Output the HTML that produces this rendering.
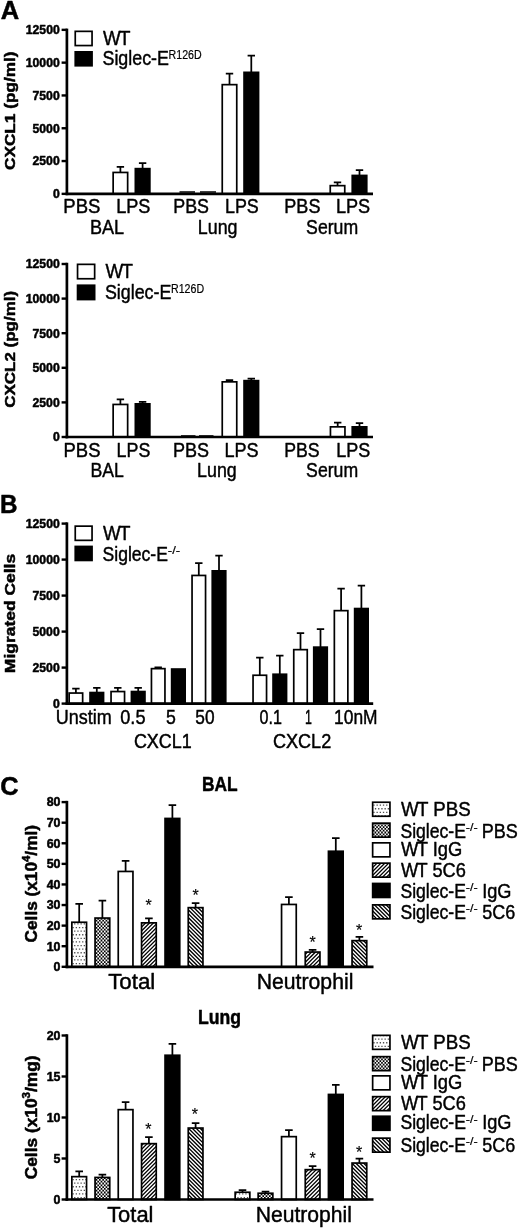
<!DOCTYPE html>
<html lang="en"><head><meta charset="utf-8"><title>Figure</title>
<style>html,body{margin:0;padding:0;background:#fff}body{width:520px;height:1230px;overflow:hidden}svg{display:block;filter:blur(.4px)}text{font-family:"Liberation Sans", Arial, sans-serif;fill:#000;stroke:#000;stroke-width:.45px;stroke-linejoin:round}text[font-weight=bold]{stroke-width:.5px}text.t{stroke-width:.18px}</style>
</head><body>
<svg width="520" height="1230" viewBox="0 0 520 1230">
<defs>
<pattern id="pdot" width="16" height="36" patternUnits="userSpaceOnUse"><rect width="16" height="36" fill="#fff"/><path d="M0.50,1.70h1.3v1.3h-1.3zM-1.10,5.30h1.3v1.3h-1.3zM3.70,1.70h1.3v1.3h-1.3zM2.10,5.30h1.3v1.3h-1.3zM6.90,1.70h1.3v1.3h-1.3zM5.30,5.30h1.3v1.3h-1.3zM10.10,1.70h1.3v1.3h-1.3zM8.50,5.30h1.3v1.3h-1.3zM13.30,1.70h1.3v1.3h-1.3zM11.70,5.30h1.3v1.3h-1.3zM16.50,1.70h1.3v1.3h-1.3zM14.90,5.30h1.3v1.3h-1.3zM0.50,8.90h1.3v1.3h-1.3zM-1.10,12.50h1.3v1.3h-1.3zM3.70,8.90h1.3v1.3h-1.3zM2.10,12.50h1.3v1.3h-1.3zM6.90,8.90h1.3v1.3h-1.3zM5.30,12.50h1.3v1.3h-1.3zM10.10,8.90h1.3v1.3h-1.3zM8.50,12.50h1.3v1.3h-1.3zM13.30,8.90h1.3v1.3h-1.3zM11.70,12.50h1.3v1.3h-1.3zM16.50,8.90h1.3v1.3h-1.3zM14.90,12.50h1.3v1.3h-1.3zM0.50,16.10h1.3v1.3h-1.3zM-1.10,19.70h1.3v1.3h-1.3zM3.70,16.10h1.3v1.3h-1.3zM2.10,19.70h1.3v1.3h-1.3zM6.90,16.10h1.3v1.3h-1.3zM5.30,19.70h1.3v1.3h-1.3zM10.10,16.10h1.3v1.3h-1.3zM8.50,19.70h1.3v1.3h-1.3zM13.30,16.10h1.3v1.3h-1.3zM11.70,19.70h1.3v1.3h-1.3zM16.50,16.10h1.3v1.3h-1.3zM14.90,19.70h1.3v1.3h-1.3zM0.50,23.30h1.3v1.3h-1.3zM-1.10,26.90h1.3v1.3h-1.3zM3.70,23.30h1.3v1.3h-1.3zM2.10,26.90h1.3v1.3h-1.3zM6.90,23.30h1.3v1.3h-1.3zM5.30,26.90h1.3v1.3h-1.3zM10.10,23.30h1.3v1.3h-1.3zM8.50,26.90h1.3v1.3h-1.3zM13.30,23.30h1.3v1.3h-1.3zM11.70,26.90h1.3v1.3h-1.3zM16.50,23.30h1.3v1.3h-1.3zM14.90,26.90h1.3v1.3h-1.3zM0.50,30.50h1.3v1.3h-1.3zM-1.10,34.10h1.3v1.3h-1.3zM3.70,30.50h1.3v1.3h-1.3zM2.10,34.10h1.3v1.3h-1.3zM6.90,30.50h1.3v1.3h-1.3zM5.30,34.10h1.3v1.3h-1.3zM10.10,30.50h1.3v1.3h-1.3zM8.50,34.10h1.3v1.3h-1.3zM13.30,30.50h1.3v1.3h-1.3zM11.70,34.10h1.3v1.3h-1.3zM16.50,30.50h1.3v1.3h-1.3zM14.90,34.10h1.3v1.3h-1.3z" fill="#505050"/></pattern>
<pattern id="pchk" width="33" height="36" patternUnits="userSpaceOnUse"><rect width="33" height="36" fill="#000"/><path d="M0.00,0.00h1.65v1.8h-1.65zM3.30,0.00h1.65v1.8h-1.65zM6.60,0.00h1.65v1.8h-1.65zM9.90,0.00h1.65v1.8h-1.65zM13.20,0.00h1.65v1.8h-1.65zM16.50,0.00h1.65v1.8h-1.65zM19.80,0.00h1.65v1.8h-1.65zM23.10,0.00h1.65v1.8h-1.65zM26.40,0.00h1.65v1.8h-1.65zM29.70,0.00h1.65v1.8h-1.65zM1.65,1.80h1.65v1.8h-1.65zM4.95,1.80h1.65v1.8h-1.65zM8.25,1.80h1.65v1.8h-1.65zM11.55,1.80h1.65v1.8h-1.65zM14.85,1.80h1.65v1.8h-1.65zM18.15,1.80h1.65v1.8h-1.65zM21.45,1.80h1.65v1.8h-1.65zM24.75,1.80h1.65v1.8h-1.65zM28.05,1.80h1.65v1.8h-1.65zM31.35,1.80h1.65v1.8h-1.65zM0.00,3.60h1.65v1.8h-1.65zM3.30,3.60h1.65v1.8h-1.65zM6.60,3.60h1.65v1.8h-1.65zM9.90,3.60h1.65v1.8h-1.65zM13.20,3.60h1.65v1.8h-1.65zM16.50,3.60h1.65v1.8h-1.65zM19.80,3.60h1.65v1.8h-1.65zM23.10,3.60h1.65v1.8h-1.65zM26.40,3.60h1.65v1.8h-1.65zM29.70,3.60h1.65v1.8h-1.65zM1.65,5.40h1.65v1.8h-1.65zM4.95,5.40h1.65v1.8h-1.65zM8.25,5.40h1.65v1.8h-1.65zM11.55,5.40h1.65v1.8h-1.65zM14.85,5.40h1.65v1.8h-1.65zM18.15,5.40h1.65v1.8h-1.65zM21.45,5.40h1.65v1.8h-1.65zM24.75,5.40h1.65v1.8h-1.65zM28.05,5.40h1.65v1.8h-1.65zM31.35,5.40h1.65v1.8h-1.65zM0.00,7.20h1.65v1.8h-1.65zM3.30,7.20h1.65v1.8h-1.65zM6.60,7.20h1.65v1.8h-1.65zM9.90,7.20h1.65v1.8h-1.65zM13.20,7.20h1.65v1.8h-1.65zM16.50,7.20h1.65v1.8h-1.65zM19.80,7.20h1.65v1.8h-1.65zM23.10,7.20h1.65v1.8h-1.65zM26.40,7.20h1.65v1.8h-1.65zM29.70,7.20h1.65v1.8h-1.65zM1.65,9.00h1.65v1.8h-1.65zM4.95,9.00h1.65v1.8h-1.65zM8.25,9.00h1.65v1.8h-1.65zM11.55,9.00h1.65v1.8h-1.65zM14.85,9.00h1.65v1.8h-1.65zM18.15,9.00h1.65v1.8h-1.65zM21.45,9.00h1.65v1.8h-1.65zM24.75,9.00h1.65v1.8h-1.65zM28.05,9.00h1.65v1.8h-1.65zM31.35,9.00h1.65v1.8h-1.65zM0.00,10.80h1.65v1.8h-1.65zM3.30,10.80h1.65v1.8h-1.65zM6.60,10.80h1.65v1.8h-1.65zM9.90,10.80h1.65v1.8h-1.65zM13.20,10.80h1.65v1.8h-1.65zM16.50,10.80h1.65v1.8h-1.65zM19.80,10.80h1.65v1.8h-1.65zM23.10,10.80h1.65v1.8h-1.65zM26.40,10.80h1.65v1.8h-1.65zM29.70,10.80h1.65v1.8h-1.65zM1.65,12.60h1.65v1.8h-1.65zM4.95,12.60h1.65v1.8h-1.65zM8.25,12.60h1.65v1.8h-1.65zM11.55,12.60h1.65v1.8h-1.65zM14.85,12.60h1.65v1.8h-1.65zM18.15,12.60h1.65v1.8h-1.65zM21.45,12.60h1.65v1.8h-1.65zM24.75,12.60h1.65v1.8h-1.65zM28.05,12.60h1.65v1.8h-1.65zM31.35,12.60h1.65v1.8h-1.65zM0.00,14.40h1.65v1.8h-1.65zM3.30,14.40h1.65v1.8h-1.65zM6.60,14.40h1.65v1.8h-1.65zM9.90,14.40h1.65v1.8h-1.65zM13.20,14.40h1.65v1.8h-1.65zM16.50,14.40h1.65v1.8h-1.65zM19.80,14.40h1.65v1.8h-1.65zM23.10,14.40h1.65v1.8h-1.65zM26.40,14.40h1.65v1.8h-1.65zM29.70,14.40h1.65v1.8h-1.65zM1.65,16.20h1.65v1.8h-1.65zM4.95,16.20h1.65v1.8h-1.65zM8.25,16.20h1.65v1.8h-1.65zM11.55,16.20h1.65v1.8h-1.65zM14.85,16.20h1.65v1.8h-1.65zM18.15,16.20h1.65v1.8h-1.65zM21.45,16.20h1.65v1.8h-1.65zM24.75,16.20h1.65v1.8h-1.65zM28.05,16.20h1.65v1.8h-1.65zM31.35,16.20h1.65v1.8h-1.65zM0.00,18.00h1.65v1.8h-1.65zM3.30,18.00h1.65v1.8h-1.65zM6.60,18.00h1.65v1.8h-1.65zM9.90,18.00h1.65v1.8h-1.65zM13.20,18.00h1.65v1.8h-1.65zM16.50,18.00h1.65v1.8h-1.65zM19.80,18.00h1.65v1.8h-1.65zM23.10,18.00h1.65v1.8h-1.65zM26.40,18.00h1.65v1.8h-1.65zM29.70,18.00h1.65v1.8h-1.65zM1.65,19.80h1.65v1.8h-1.65zM4.95,19.80h1.65v1.8h-1.65zM8.25,19.80h1.65v1.8h-1.65zM11.55,19.80h1.65v1.8h-1.65zM14.85,19.80h1.65v1.8h-1.65zM18.15,19.80h1.65v1.8h-1.65zM21.45,19.80h1.65v1.8h-1.65zM24.75,19.80h1.65v1.8h-1.65zM28.05,19.80h1.65v1.8h-1.65zM31.35,19.80h1.65v1.8h-1.65zM0.00,21.60h1.65v1.8h-1.65zM3.30,21.60h1.65v1.8h-1.65zM6.60,21.60h1.65v1.8h-1.65zM9.90,21.60h1.65v1.8h-1.65zM13.20,21.60h1.65v1.8h-1.65zM16.50,21.60h1.65v1.8h-1.65zM19.80,21.60h1.65v1.8h-1.65zM23.10,21.60h1.65v1.8h-1.65zM26.40,21.60h1.65v1.8h-1.65zM29.70,21.60h1.65v1.8h-1.65zM1.65,23.40h1.65v1.8h-1.65zM4.95,23.40h1.65v1.8h-1.65zM8.25,23.40h1.65v1.8h-1.65zM11.55,23.40h1.65v1.8h-1.65zM14.85,23.40h1.65v1.8h-1.65zM18.15,23.40h1.65v1.8h-1.65zM21.45,23.40h1.65v1.8h-1.65zM24.75,23.40h1.65v1.8h-1.65zM28.05,23.40h1.65v1.8h-1.65zM31.35,23.40h1.65v1.8h-1.65zM0.00,25.20h1.65v1.8h-1.65zM3.30,25.20h1.65v1.8h-1.65zM6.60,25.20h1.65v1.8h-1.65zM9.90,25.20h1.65v1.8h-1.65zM13.20,25.20h1.65v1.8h-1.65zM16.50,25.20h1.65v1.8h-1.65zM19.80,25.20h1.65v1.8h-1.65zM23.10,25.20h1.65v1.8h-1.65zM26.40,25.20h1.65v1.8h-1.65zM29.70,25.20h1.65v1.8h-1.65zM1.65,27.00h1.65v1.8h-1.65zM4.95,27.00h1.65v1.8h-1.65zM8.25,27.00h1.65v1.8h-1.65zM11.55,27.00h1.65v1.8h-1.65zM14.85,27.00h1.65v1.8h-1.65zM18.15,27.00h1.65v1.8h-1.65zM21.45,27.00h1.65v1.8h-1.65zM24.75,27.00h1.65v1.8h-1.65zM28.05,27.00h1.65v1.8h-1.65zM31.35,27.00h1.65v1.8h-1.65zM0.00,28.80h1.65v1.8h-1.65zM3.30,28.80h1.65v1.8h-1.65zM6.60,28.80h1.65v1.8h-1.65zM9.90,28.80h1.65v1.8h-1.65zM13.20,28.80h1.65v1.8h-1.65zM16.50,28.80h1.65v1.8h-1.65zM19.80,28.80h1.65v1.8h-1.65zM23.10,28.80h1.65v1.8h-1.65zM26.40,28.80h1.65v1.8h-1.65zM29.70,28.80h1.65v1.8h-1.65zM1.65,30.60h1.65v1.8h-1.65zM4.95,30.60h1.65v1.8h-1.65zM8.25,30.60h1.65v1.8h-1.65zM11.55,30.60h1.65v1.8h-1.65zM14.85,30.60h1.65v1.8h-1.65zM18.15,30.60h1.65v1.8h-1.65zM21.45,30.60h1.65v1.8h-1.65zM24.75,30.60h1.65v1.8h-1.65zM28.05,30.60h1.65v1.8h-1.65zM31.35,30.60h1.65v1.8h-1.65zM0.00,32.40h1.65v1.8h-1.65zM3.30,32.40h1.65v1.8h-1.65zM6.60,32.40h1.65v1.8h-1.65zM9.90,32.40h1.65v1.8h-1.65zM13.20,32.40h1.65v1.8h-1.65zM16.50,32.40h1.65v1.8h-1.65zM19.80,32.40h1.65v1.8h-1.65zM23.10,32.40h1.65v1.8h-1.65zM26.40,32.40h1.65v1.8h-1.65zM29.70,32.40h1.65v1.8h-1.65zM1.65,34.20h1.65v1.8h-1.65zM4.95,34.20h1.65v1.8h-1.65zM8.25,34.20h1.65v1.8h-1.65zM11.55,34.20h1.65v1.8h-1.65zM14.85,34.20h1.65v1.8h-1.65zM18.15,34.20h1.65v1.8h-1.65zM21.45,34.20h1.65v1.8h-1.65zM24.75,34.20h1.65v1.8h-1.65zM28.05,34.20h1.65v1.8h-1.65zM31.35,34.20h1.65v1.8h-1.65z" fill="#fff"/></pattern>
<pattern id="pfw" width="39" height="39" patternUnits="userSpaceOnUse"><rect width="39" height="39" fill="#fff"/><path d="M1.00,-1L-1,1.00M4.90,-1L-1,4.90M8.80,-1L-1,8.80M12.70,-1L-1,12.70M16.60,-1L-1,16.60M20.50,-1L-1,20.50M24.40,-1L-1,24.40M28.30,-1L-1,28.30M32.20,-1L-1,32.20M36.10,-1L-1,36.10M40.00,-1L-1,40.00M43.90,-1L-1,43.90M47.80,-1L-1,47.80M51.70,-1L-1,51.70M55.60,-1L-1,55.60M59.50,-1L-1,59.50M63.40,-1L-1,63.40M67.30,-1L-1,67.30M71.20,-1L-1,71.20M75.10,-1L-1,75.10M79.00,-1L-1,79.00" stroke="#000" stroke-width="1.3" fill="none"/></pattern>
<pattern id="pbw" width="39" height="39" patternUnits="userSpaceOnUse"><rect width="39" height="39" fill="#fff"/><path d="M38.00,-1L40,1.00M34.10,-1L40,4.90M30.20,-1L40,8.80M26.30,-1L40,12.70M22.40,-1L40,16.60M18.50,-1L40,20.50M14.60,-1L40,24.40M10.70,-1L40,28.30M6.80,-1L40,32.20M2.90,-1L40,36.10M-1.00,-1L40,40.00M-4.90,-1L40,43.90M-8.80,-1L40,47.80M-12.70,-1L40,51.70M-16.60,-1L40,55.60M-20.50,-1L40,59.50M-24.40,-1L40,63.40M-28.30,-1L40,67.30M-32.20,-1L40,71.20M-36.10,-1L40,75.10M-40.00,-1L40,79.00" stroke="#000" stroke-width="1.35" fill="none"/></pattern>
</defs>
<rect width="520" height="1230" fill="#fff"/>
<text transform="translate(0.76,19.0) scale(0.9970,1)" font-size="25.6" font-weight="bold">A</text>
<path d="M120.40,172.60 V166.80 M116.70,166.80 H124.10" stroke="#000" stroke-width="1.75" fill="none"/>
<rect x="113.15" y="172.45" width="14.50" height="21.40" fill="#fff" stroke="#000" stroke-width="1.7"/>
<path d="M142.60,168.80 V163.00 M138.90,163.00 H146.30" stroke="#000" stroke-width="1.75" fill="none"/>
<rect x="135.35" y="168.65" width="14.50" height="25.20" fill="#000" stroke="#000" stroke-width="1.7"/>
<path d="M229.50,84.80 V73.70 M225.80,73.70 H233.20" stroke="#000" stroke-width="1.75" fill="none"/>
<rect x="222.25" y="84.65" width="14.50" height="109.20" fill="#fff" stroke="#000" stroke-width="1.7"/>
<path d="M251.30,72.50 V55.50 M247.60,55.50 H255.00" stroke="#000" stroke-width="1.75" fill="none"/>
<rect x="244.05" y="72.35" width="14.50" height="121.50" fill="#000" stroke="#000" stroke-width="1.7"/>
<path d="M337.50,185.80 V182.30 M333.80,182.30 H341.20" stroke="#000" stroke-width="1.75" fill="none"/>
<rect x="330.25" y="185.65" width="14.50" height="8.20" fill="#fff" stroke="#000" stroke-width="1.7"/>
<path d="M359.50,175.60 V170.00 M355.80,170.00 H363.20" stroke="#000" stroke-width="1.75" fill="none"/>
<rect x="352.25" y="175.45" width="14.50" height="18.40" fill="#000" stroke="#000" stroke-width="1.7"/>
<path d="M179.5,192.0 H195 M200,192.0 H216" stroke="#000" stroke-width="1.3"/>
<path d="M66.9,28.60 V195.20" stroke="#000" stroke-width="2.7" fill="none"/>
<path d="M65.60000000000001,193.85 H373" stroke="#000" stroke-width="2.7" fill="none"/>
<path d="M61.6,29.85 H66.9" stroke="#000" stroke-width="2.4"/>
<text x="59.7" y="34.15" font-size="12.2" font-weight="bold" text-anchor="end">12500</text>
<path d="M61.6,62.65 H66.9" stroke="#000" stroke-width="2.4"/>
<text x="59.7" y="66.95" font-size="12.2" font-weight="bold" text-anchor="end">10000</text>
<path d="M61.6,95.45 H66.9" stroke="#000" stroke-width="2.4"/>
<text x="59.7" y="99.75" font-size="12.2" font-weight="bold" text-anchor="end">7500</text>
<path d="M61.6,128.25 H66.9" stroke="#000" stroke-width="2.4"/>
<text x="59.7" y="132.55" font-size="12.2" font-weight="bold" text-anchor="end">5000</text>
<path d="M61.6,161.05 H66.9" stroke="#000" stroke-width="2.4"/>
<text x="59.7" y="165.35" font-size="12.2" font-weight="bold" text-anchor="end">2500</text>
<path d="M61.6,193.85 H66.9" stroke="#000" stroke-width="2.4"/>
<text x="59.7" y="198.15" font-size="12.2" font-weight="bold" text-anchor="end">0</text>
<text transform="translate(15.2,169.99) rotate(-90) scale(1.1329,1)" font-size="15.2" font-weight="bold">CXCL1 (pg/ml)</text>
<rect x="75.25" y="31.35" width="16.80" height="14.20" fill="#fff" stroke="#000" stroke-width="1.7"/>
<rect x="74.4" y="51.0" width="18.50" height="15.60" fill="#000"/>
<text transform="translate(103.01,45.0) scale(0.9284,1)" font-size="20.2"><tspan letter-spacing="-1.72">W</tspan>T</text>
<text transform="translate(102.50,65.0) scale(0.8839,1)" font-size="20.2">Siglec-E</text>
<text transform="translate(168.55,58.8) scale(0.8878,1)" font-size="12.0" class="t">R126D</text>
<text transform="translate(63.32,213.2) scale(0.9280,1)" font-size="20.0">PBS</text>
<text transform="translate(116.15,213.2) scale(0.9065,1)" font-size="20.0">LPS</text>
<text transform="translate(173.27,213.2) scale(0.8933,1)" font-size="20.0">PBS</text>
<text transform="translate(224.97,213.2) scale(0.8952,1)" font-size="20.0">LPS</text>
<text transform="translate(284.36,213.2) scale(0.9013,1)" font-size="20.0">PBS</text>
<text transform="translate(335.95,213.2) scale(0.9065,1)" font-size="20.0">LPS</text>
<text transform="translate(89.95,233.8) scale(0.9045,1)" font-size="20.0">BAL</text>
<text transform="translate(197.87,233.8) scale(0.8918,1)" font-size="20.0">Lung</text>
<text transform="translate(306.10,233.8) scale(0.8836,1)" font-size="20.0">Serum</text>
<path d="M120.40,404.60 V399.40 M116.70,399.40 H124.10" stroke="#000" stroke-width="1.75" fill="none"/>
<rect x="113.15" y="404.45" width="14.50" height="32.55" fill="#fff" stroke="#000" stroke-width="1.7"/>
<path d="M142.60,404.00 V401.80 M138.90,401.80 H146.30" stroke="#000" stroke-width="1.75" fill="none"/>
<rect x="135.35" y="403.85" width="14.50" height="33.15" fill="#000" stroke="#000" stroke-width="1.7"/>
<path d="M229.50,382.00 V380.00 M225.80,380.00 H233.20" stroke="#000" stroke-width="1.75" fill="none"/>
<rect x="222.25" y="381.85" width="14.50" height="55.15" fill="#fff" stroke="#000" stroke-width="1.7"/>
<path d="M251.30,380.80 V378.60 M247.60,378.60 H255.00" stroke="#000" stroke-width="1.75" fill="none"/>
<rect x="244.05" y="380.65" width="14.50" height="56.35" fill="#000" stroke="#000" stroke-width="1.7"/>
<path d="M337.70,427.00 V422.50 M334.00,422.50 H341.40" stroke="#000" stroke-width="1.75" fill="none"/>
<rect x="330.45" y="426.85" width="14.50" height="10.15" fill="#fff" stroke="#000" stroke-width="1.7"/>
<path d="M359.50,427.00 V423.00 M355.80,423.00 H363.20" stroke="#000" stroke-width="1.75" fill="none"/>
<rect x="352.25" y="426.85" width="14.50" height="10.15" fill="#000" stroke="#000" stroke-width="1.7"/>
<path d="M181,435.6 H195.5 M199,435.6 H213.5" stroke="#000" stroke-width="0.9"/>
<path d="M66.9,262.75 V438.35" stroke="#000" stroke-width="2.7" fill="none"/>
<path d="M65.60000000000001,437.00 H373" stroke="#000" stroke-width="2.7" fill="none"/>
<path d="M61.6,264.00 H66.9" stroke="#000" stroke-width="2.4"/>
<text x="59.7" y="268.3" font-size="12.2" font-weight="bold" text-anchor="end">12500</text>
<path d="M61.6,298.60 H66.9" stroke="#000" stroke-width="2.4"/>
<text x="59.7" y="302.9" font-size="12.2" font-weight="bold" text-anchor="end">10000</text>
<path d="M61.6,333.20 H66.9" stroke="#000" stroke-width="2.4"/>
<text x="59.7" y="337.5" font-size="12.2" font-weight="bold" text-anchor="end">7500</text>
<path d="M61.6,367.80 H66.9" stroke="#000" stroke-width="2.4"/>
<text x="59.7" y="372.1" font-size="12.2" font-weight="bold" text-anchor="end">5000</text>
<path d="M61.6,402.40 H66.9" stroke="#000" stroke-width="2.4"/>
<text x="59.7" y="406.7" font-size="12.2" font-weight="bold" text-anchor="end">2500</text>
<path d="M61.6,437.00 H66.9" stroke="#000" stroke-width="2.4"/>
<text x="59.7" y="441.3" font-size="12.2" font-weight="bold" text-anchor="end">0</text>
<text transform="translate(15.2,407.68) rotate(-90) scale(1.1165,1)" font-size="15.2" font-weight="bold">CXCL2 (pg/ml)</text>
<rect x="77.55" y="264.35" width="17.10" height="14.40" fill="#fff" stroke="#000" stroke-width="1.7"/>
<rect x="76.7" y="284.4" width="18.80" height="16.00" fill="#000"/>
<text transform="translate(105.41,278.4) scale(0.9284,1)" font-size="20.2"><tspan letter-spacing="-1.72">W</tspan>T</text>
<text transform="translate(104.90,299.0) scale(0.8839,1)" font-size="20.2">Siglec-E</text>
<text transform="translate(170.95,292.8) scale(0.8878,1)" font-size="12.0" class="t">R126D</text>
<text transform="translate(63.52,456.7) scale(0.9227,1)" font-size="20.0">PBS</text>
<text transform="translate(116.57,456.7) scale(0.8924,1)" font-size="20.0">LPS</text>
<text transform="translate(172.96,456.7) scale(0.9013,1)" font-size="20.0">PBS</text>
<text transform="translate(224.45,456.7) scale(0.9037,1)" font-size="20.0">LPS</text>
<text transform="translate(284.18,456.7) scale(0.8853,1)" font-size="20.0">PBS</text>
<text transform="translate(336.16,456.7) scale(0.9008,1)" font-size="20.0">LPS</text>
<text transform="translate(90.59,476.9) scale(0.8820,1)" font-size="20.0">BAL</text>
<text transform="translate(197.07,476.9) scale(0.8918,1)" font-size="20.0">Lung</text>
<text transform="translate(306.10,476.9) scale(0.8836,1)" font-size="20.0">Serum</text>
<text transform="translate(0.12,512.6) scale(0.9477,1)" font-size="25.6" font-weight="bold">B</text>
<path d="M75.90,693.20 V688.50 M72.20,688.50 H79.60" stroke="#000" stroke-width="1.75" fill="none"/>
<rect x="69.15" y="693.05" width="13.50" height="10.55" fill="#fff" stroke="#000" stroke-width="1.7"/>
<path d="M96.80,692.70 V687.80 M93.10,687.80 H100.50" stroke="#000" stroke-width="1.75" fill="none"/>
<rect x="90.05" y="692.55" width="13.50" height="11.05" fill="#000" stroke="#000" stroke-width="1.7"/>
<path d="M117.80,691.70 V687.80 M114.10,687.80 H121.50" stroke="#000" stroke-width="1.75" fill="none"/>
<rect x="111.05" y="691.55" width="13.50" height="12.05" fill="#fff" stroke="#000" stroke-width="1.7"/>
<path d="M138.20,691.70 V687.80 M134.50,687.80 H141.90" stroke="#000" stroke-width="1.75" fill="none"/>
<rect x="131.45" y="691.55" width="13.50" height="12.05" fill="#000" stroke="#000" stroke-width="1.7"/>
<path d="M158.20,668.80 V667.40 M154.50,667.40 H161.90" stroke="#000" stroke-width="1.75" fill="none"/>
<rect x="151.45" y="668.65" width="13.50" height="34.95" fill="#fff" stroke="#000" stroke-width="1.7"/>
<rect x="171.65" y="669.05" width="13.50" height="34.55" fill="#000" stroke="#000" stroke-width="1.7"/>
<path d="M198.80,575.60 V563.00 M195.10,563.00 H202.50" stroke="#000" stroke-width="1.75" fill="none"/>
<rect x="192.05" y="575.45" width="13.50" height="128.15" fill="#fff" stroke="#000" stroke-width="1.7"/>
<path d="M219.00,571.00 V555.50 M215.30,555.50 H222.70" stroke="#000" stroke-width="1.75" fill="none"/>
<rect x="212.25" y="570.85" width="13.50" height="132.75" fill="#000" stroke="#000" stroke-width="1.7"/>
<path d="M259.80,675.40 V657.70 M256.10,657.70 H263.50" stroke="#000" stroke-width="1.75" fill="none"/>
<rect x="253.05" y="675.25" width="13.50" height="28.35" fill="#fff" stroke="#000" stroke-width="1.7"/>
<path d="M279.80,674.40 V655.50 M276.10,655.50 H283.50" stroke="#000" stroke-width="1.75" fill="none"/>
<rect x="273.05" y="674.25" width="13.50" height="29.35" fill="#000" stroke="#000" stroke-width="1.7"/>
<path d="M300.50,649.80 V633.20 M296.80,633.20 H304.20" stroke="#000" stroke-width="1.75" fill="none"/>
<rect x="293.75" y="649.65" width="13.50" height="53.95" fill="#fff" stroke="#000" stroke-width="1.7"/>
<path d="M320.50,647.30 V629.20 M316.80,629.20 H324.20" stroke="#000" stroke-width="1.75" fill="none"/>
<rect x="313.75" y="647.15" width="13.50" height="56.45" fill="#000" stroke="#000" stroke-width="1.7"/>
<path d="M341.10,610.80 V588.60 M337.40,588.60 H344.80" stroke="#000" stroke-width="1.75" fill="none"/>
<rect x="334.35" y="610.65" width="13.50" height="92.95" fill="#fff" stroke="#000" stroke-width="1.7"/>
<path d="M361.40,608.70 V585.50 M357.70,585.50 H365.10" stroke="#000" stroke-width="1.75" fill="none"/>
<rect x="354.65" y="608.55" width="13.50" height="95.05" fill="#000" stroke="#000" stroke-width="1.7"/>
<path d="M66.9,522.35 V704.95" stroke="#000" stroke-width="2.7" fill="none"/>
<path d="M65.60000000000001,703.60 H373.2" stroke="#000" stroke-width="2.7" fill="none"/>
<path d="M61.6,523.60 H66.9" stroke="#000" stroke-width="2.4"/>
<text x="59.7" y="527.9" font-size="12.2" font-weight="bold" text-anchor="end">12500</text>
<path d="M61.6,559.60 H66.9" stroke="#000" stroke-width="2.4"/>
<text x="59.7" y="563.9" font-size="12.2" font-weight="bold" text-anchor="end">10000</text>
<path d="M61.6,595.60 H66.9" stroke="#000" stroke-width="2.4"/>
<text x="59.7" y="599.9" font-size="12.2" font-weight="bold" text-anchor="end">7500</text>
<path d="M61.6,631.60 H66.9" stroke="#000" stroke-width="2.4"/>
<text x="59.7" y="635.9" font-size="12.2" font-weight="bold" text-anchor="end">5000</text>
<path d="M61.6,667.60 H66.9" stroke="#000" stroke-width="2.4"/>
<text x="59.7" y="671.9" font-size="12.2" font-weight="bold" text-anchor="end">2500</text>
<path d="M61.6,703.60 H66.9" stroke="#000" stroke-width="2.4"/>
<text x="59.7" y="707.9" font-size="12.2" font-weight="bold" text-anchor="end">0</text>
<text transform="translate(15.4,673.13) rotate(-90) scale(1.1476,1)" font-size="15.2" font-weight="bold">Migrated Cells</text>
<rect x="75.25" y="526.15" width="16.80" height="14.20" fill="#fff" stroke="#000" stroke-width="1.7"/>
<rect x="74.4" y="545.6" width="18.50" height="15.70" fill="#000"/>
<text transform="translate(103.01,539.9) scale(0.9284,1)" font-size="20.2"><tspan letter-spacing="-1.72">W</tspan>T</text>
<text transform="translate(102.51,560.5) scale(0.8703,1)" font-size="20.2">Siglec-E</text>
<text transform="translate(167.81,553.6) scale(1.2476,1)" font-size="10.5" class="t">-/-</text>
<text transform="translate(55.65,724.3) scale(0.9008,1)" font-size="20.0">Unstim</text>
<text transform="translate(120.27,724.3) scale(0.9084,1)" font-size="20.0">0.5</text>
<text transform="translate(165.89,724.3) scale(0.8842,1)" font-size="20.0">5</text>
<text transform="translate(195.31,724.3) scale(0.8647,1)" font-size="20.0">50</text>
<text transform="translate(259.56,724.3) scale(0.8046,1)" font-size="20.0">0.1</text>
<text transform="translate(305.07,724.3) scale(0.6207,1)" font-size="20.0">1</text>
<text transform="translate(334.10,724.3) scale(0.8699,1)" font-size="20.0">10nM</text>
<text transform="translate(133.90,747.6) scale(0.8978,1)" font-size="20.0">CXCL1</text>
<text transform="translate(272.89,747.6) scale(0.9056,1)" font-size="20.0">CXCL2</text>
<text transform="translate(0.19,795.0) scale(0.9900,1)" font-size="25.6" font-weight="bold">C</text>
<text transform="translate(202.07,791.2) scale(0.8545,1)" font-size="20.3" font-weight="bold">BAL</text>
<path d="M79.20,922.40 V903.80 M75.40,903.80 H83.00" stroke="#000" stroke-width="1.75" fill="none"/>
<rect x="71.85" y="922.25" width="14.70" height="44.55" fill="url(#pdot)" stroke="#000" stroke-width="1.7"/>
<path d="M102.40,918.20 V900.60 M98.60,900.60 H106.20" stroke="#000" stroke-width="1.75" fill="none"/>
<rect x="95.05" y="918.05" width="14.70" height="48.75" fill="url(#pchk)" stroke="#000" stroke-width="1.7"/>
<path d="M125.60,871.60 V860.80 M121.80,860.80 H129.40" stroke="#000" stroke-width="1.75" fill="none"/>
<rect x="118.25" y="871.45" width="14.70" height="95.35" fill="#fff" stroke="#000" stroke-width="1.7"/>
<path d="M148.90,923.00 V918.40 M145.10,918.40 H152.70" stroke="#000" stroke-width="1.75" fill="none"/>
<rect x="141.55" y="922.85" width="14.70" height="43.95" fill="url(#pfw)" stroke="#000" stroke-width="1.7"/>
<path d="M172.40,818.60 V805.20 M168.60,805.20 H176.20" stroke="#000" stroke-width="1.75" fill="none"/>
<rect x="165.05" y="818.45" width="14.70" height="148.35" fill="#000" stroke="#000" stroke-width="1.7"/>
<path d="M195.60,907.80 V903.20 M191.80,903.20 H199.40" stroke="#000" stroke-width="1.75" fill="none"/>
<rect x="188.25" y="907.65" width="14.70" height="59.15" fill="url(#pbw)" stroke="#000" stroke-width="1.7"/>
<path d="M288.90,904.60 V897.00 M285.10,897.00 H292.70" stroke="#000" stroke-width="1.75" fill="none"/>
<rect x="281.55" y="904.45" width="14.70" height="62.35" fill="#fff" stroke="#000" stroke-width="1.7"/>
<path d="M312.60,952.20 V949.80 M308.80,949.80 H316.40" stroke="#000" stroke-width="1.75" fill="none"/>
<rect x="305.25" y="952.05" width="14.70" height="14.75" fill="url(#pfw)" stroke="#000" stroke-width="1.7"/>
<path d="M335.80,851.40 V838.00 M332.00,838.00 H339.60" stroke="#000" stroke-width="1.75" fill="none"/>
<rect x="328.45" y="851.25" width="14.70" height="115.55" fill="#000" stroke="#000" stroke-width="1.7"/>
<path d="M359.40,940.80 V936.80 M355.60,936.80 H363.20" stroke="#000" stroke-width="1.75" fill="none"/>
<rect x="352.05" y="940.65" width="14.70" height="26.15" fill="url(#pbw)" stroke="#000" stroke-width="1.7"/>
<text x="148.6" y="911.0" font-size="16" text-anchor="middle" class="t">*</text>
<text x="195.6" y="900.7" font-size="16" text-anchor="middle" class="t">*</text>
<text x="312.6" y="947.7" font-size="16" text-anchor="middle" class="t">*</text>
<text x="359.0" y="935.7" font-size="16" text-anchor="middle" class="t">*</text>
<path d="M66.9,800.85 V968.15" stroke="#000" stroke-width="2.7" fill="none"/>
<path d="M65.60000000000001,966.80 H373.5" stroke="#000" stroke-width="2.7" fill="none"/>
<path d="M61.6,802.10 H66.9" stroke="#000" stroke-width="2.4"/>
<text x="60.5" y="806.4" font-size="12.4" font-weight="bold" text-anchor="end">80</text>
<path d="M61.6,822.69 H66.9" stroke="#000" stroke-width="2.4"/>
<text x="60.5" y="826.99" font-size="12.4" font-weight="bold" text-anchor="end">70</text>
<path d="M61.6,843.28 H66.9" stroke="#000" stroke-width="2.4"/>
<text x="60.5" y="847.58" font-size="12.4" font-weight="bold" text-anchor="end">60</text>
<path d="M61.6,863.87 H66.9" stroke="#000" stroke-width="2.4"/>
<text x="60.5" y="868.16" font-size="12.4" font-weight="bold" text-anchor="end">50</text>
<path d="M61.6,884.45 H66.9" stroke="#000" stroke-width="2.4"/>
<text x="60.5" y="888.75" font-size="12.4" font-weight="bold" text-anchor="end">40</text>
<path d="M61.6,905.04 H66.9" stroke="#000" stroke-width="2.4"/>
<text x="60.5" y="909.34" font-size="12.4" font-weight="bold" text-anchor="end">30</text>
<path d="M61.6,925.63 H66.9" stroke="#000" stroke-width="2.4"/>
<text x="60.5" y="929.93" font-size="12.4" font-weight="bold" text-anchor="end">20</text>
<path d="M61.6,946.21 H66.9" stroke="#000" stroke-width="2.4"/>
<text x="60.5" y="950.51" font-size="12.4" font-weight="bold" text-anchor="end">10</text>
<path d="M61.6,966.80 H66.9" stroke="#000" stroke-width="2.4"/>
<text x="60.5" y="971.1" font-size="12.4" font-weight="bold" text-anchor="end">0</text>
<text transform="translate(36.9,942.39) rotate(-90) scale(1.0505,1)" font-size="16.4" font-weight="bold">Cells (x10<tspan font-size="11" dy="-6.6">4</tspan><tspan dy="6.6">/ml)</tspan></text>
<text transform="translate(108.15,989.1) scale(0.9877,1)" font-size="22.6">Total</text>
<text transform="translate(256.70,989.1) scale(0.9391,1)" font-size="22.6">Neutrophil</text>
<rect x="372.65" y="802.25" width="17.30" height="14.00" fill="url(#pdot)" stroke="#000" stroke-width="1.7"/>
<rect x="372.65" y="823.15" width="17.30" height="14.00" fill="url(#pchk)" stroke="#000" stroke-width="1.7"/>
<rect x="372.65" y="842.85" width="17.30" height="14.00" fill="#fff" stroke="#000" stroke-width="1.7"/>
<rect x="372.65" y="863.15" width="17.30" height="14.00" fill="url(#pfw)" stroke="#000" stroke-width="1.7"/>
<rect x="371.8" y="882.6" width="19.00" height="15.70" fill="#000"/>
<rect x="372.65" y="904.85" width="17.30" height="14.00" fill="url(#pbw)" stroke="#000" stroke-width="1.7"/>
<text transform="translate(400.91,816.3) scale(0.9269,1)" font-size="20.2"><tspan letter-spacing="-1.72">W</tspan>T PBS</text>
<text transform="translate(400.41,837.6) scale(0.8716,1)" font-size="20.2">Siglec-E</text>
<text transform="translate(465.83,830.7) scale(1.2030,1)" font-size="10.5" class="t">-/-</text>
<text transform="translate(481.76,837.6) scale(0.8924,1)" font-size="20.2">PBS</text>
<text transform="translate(400.91,856.4) scale(0.9097,1)" font-size="20.2"><tspan letter-spacing="-1.72">W</tspan>T IgG</text>
<text transform="translate(400.91,877.2) scale(0.9029,1)" font-size="20.2"><tspan letter-spacing="-1.72">W</tspan>T 5C6</text>
<text transform="translate(400.41,897.8) scale(0.8716,1)" font-size="20.2">Siglec-E</text>
<text transform="translate(465.83,890.9) scale(1.2030,1)" font-size="10.5" class="t">-/-</text>
<text transform="translate(482.16,897.8) scale(0.9013,1)" font-size="20.2">IgG</text>
<text transform="translate(400.41,918.6) scale(0.8716,1)" font-size="20.2">Siglec-E</text>
<text transform="translate(465.83,911.7) scale(1.2030,1)" font-size="10.5" class="t">-/-</text>
<text transform="translate(482.28,918.6) scale(0.8914,1)" font-size="20.2">5C6</text>
<text transform="translate(198.05,1023.5) scale(0.8682,1)" font-size="20.3" font-weight="bold">Lung</text>
<path d="M79.20,1176.80 V1171.40 M75.40,1171.40 H83.00" stroke="#000" stroke-width="1.75" fill="none"/>
<rect x="71.85" y="1176.65" width="14.70" height="22.85" fill="url(#pdot)" stroke="#000" stroke-width="1.7"/>
<path d="M102.40,1177.60 V1174.60 M98.60,1174.60 H106.20" stroke="#000" stroke-width="1.75" fill="none"/>
<rect x="95.05" y="1177.45" width="14.70" height="22.05" fill="url(#pchk)" stroke="#000" stroke-width="1.7"/>
<path d="M125.60,1109.80 V1102.20 M121.80,1102.20 H129.40" stroke="#000" stroke-width="1.75" fill="none"/>
<rect x="118.25" y="1109.65" width="14.70" height="89.85" fill="#fff" stroke="#000" stroke-width="1.7"/>
<path d="M148.90,1143.80 V1137.00 M145.10,1137.00 H152.70" stroke="#000" stroke-width="1.75" fill="none"/>
<rect x="141.55" y="1143.65" width="14.70" height="55.85" fill="url(#pfw)" stroke="#000" stroke-width="1.7"/>
<path d="M172.40,1055.40 V1043.80 M168.60,1043.80 H176.20" stroke="#000" stroke-width="1.75" fill="none"/>
<rect x="165.05" y="1055.25" width="14.70" height="144.25" fill="#000" stroke="#000" stroke-width="1.7"/>
<path d="M195.60,1128.20 V1123.00 M191.80,1123.00 H199.40" stroke="#000" stroke-width="1.75" fill="none"/>
<rect x="188.25" y="1128.05" width="14.70" height="71.45" fill="url(#pbw)" stroke="#000" stroke-width="1.7"/>
<path d="M242.50,1192.40 V1190.00 M238.70,1190.00 H246.30" stroke="#000" stroke-width="1.75" fill="none"/>
<rect x="235.15" y="1192.25" width="14.70" height="7.25" fill="url(#pdot)" stroke="#000" stroke-width="1.7"/>
<path d="M265.50,1193.40 V1191.60 M261.70,1191.60 H269.30" stroke="#000" stroke-width="1.75" fill="none"/>
<rect x="258.15" y="1193.25" width="14.70" height="6.25" fill="url(#pchk)" stroke="#000" stroke-width="1.7"/>
<path d="M288.90,1136.80 V1130.00 M285.10,1130.00 H292.70" stroke="#000" stroke-width="1.75" fill="none"/>
<rect x="281.55" y="1136.65" width="14.70" height="62.85" fill="#fff" stroke="#000" stroke-width="1.7"/>
<path d="M312.60,1169.80 V1166.00 M308.80,1166.00 H316.40" stroke="#000" stroke-width="1.75" fill="none"/>
<rect x="305.25" y="1169.65" width="14.70" height="29.85" fill="url(#pfw)" stroke="#000" stroke-width="1.7"/>
<path d="M335.80,1094.60 V1084.80 M332.00,1084.80 H339.60" stroke="#000" stroke-width="1.75" fill="none"/>
<rect x="328.45" y="1094.45" width="14.70" height="105.05" fill="#000" stroke="#000" stroke-width="1.7"/>
<path d="M359.40,1163.20 V1158.60 M355.60,1158.60 H363.20" stroke="#000" stroke-width="1.75" fill="none"/>
<rect x="352.05" y="1163.05" width="14.70" height="36.45" fill="url(#pbw)" stroke="#000" stroke-width="1.7"/>
<text x="148.4" y="1135.3" font-size="16" text-anchor="middle" class="t">*</text>
<text x="194.8" y="1120.2" font-size="16" text-anchor="middle" class="t">*</text>
<text x="312.6" y="1164.2" font-size="16" text-anchor="middle" class="t">*</text>
<text x="359.2" y="1158.1" font-size="16" text-anchor="middle" class="t">*</text>
<path d="M66.9,1034.25 V1200.85" stroke="#000" stroke-width="2.7" fill="none"/>
<path d="M65.60000000000001,1199.50 H373.5" stroke="#000" stroke-width="2.7" fill="none"/>
<path d="M61.6,1035.50 H66.9" stroke="#000" stroke-width="2.4"/>
<text x="60.5" y="1039.8" font-size="12.4" font-weight="bold" text-anchor="end">20</text>
<path d="M61.6,1076.50 H66.9" stroke="#000" stroke-width="2.4"/>
<text x="60.5" y="1080.8" font-size="12.4" font-weight="bold" text-anchor="end">15</text>
<path d="M61.6,1117.50 H66.9" stroke="#000" stroke-width="2.4"/>
<text x="60.5" y="1121.8" font-size="12.4" font-weight="bold" text-anchor="end">10</text>
<path d="M61.6,1158.50 H66.9" stroke="#000" stroke-width="2.4"/>
<text x="60.5" y="1162.8" font-size="12.4" font-weight="bold" text-anchor="end">5</text>
<path d="M61.6,1199.50 H66.9" stroke="#000" stroke-width="2.4"/>
<text x="60.5" y="1203.8" font-size="12.4" font-weight="bold" text-anchor="end">0</text>
<text transform="translate(36.9,1179.29) rotate(-90) scale(1.0555,1)" font-size="16.4" font-weight="bold">Cells (x10<tspan font-size="11" dy="-6.6">3</tspan><tspan dy="6.6">/mg)</tspan></text>
<text transform="translate(107.16,1222.3) scale(0.9702,1)" font-size="22.6">Total</text>
<text transform="translate(255.71,1221.8) scale(0.9351,1)" font-size="22.6">Neutrophil</text>
<rect x="372.65" y="1035.35" width="17.30" height="14.00" fill="url(#pdot)" stroke="#000" stroke-width="1.7"/>
<rect x="372.65" y="1056.65" width="17.30" height="14.00" fill="url(#pchk)" stroke="#000" stroke-width="1.7"/>
<rect x="372.65" y="1075.85" width="17.30" height="14.00" fill="#fff" stroke="#000" stroke-width="1.7"/>
<rect x="372.65" y="1096.65" width="17.30" height="14.00" fill="url(#pfw)" stroke="#000" stroke-width="1.7"/>
<rect x="371.8" y="1115.4" width="19.00" height="15.70" fill="#000"/>
<rect x="372.65" y="1138.15" width="17.30" height="14.00" fill="url(#pbw)" stroke="#000" stroke-width="1.7"/>
<text transform="translate(400.91,1049.2) scale(0.9269,1)" font-size="20.2"><tspan letter-spacing="-1.72">W</tspan>T PBS</text>
<text transform="translate(400.41,1070.7) scale(0.8716,1)" font-size="20.2">Siglec-E</text>
<text transform="translate(465.83,1063.8) scale(1.2030,1)" font-size="10.5" class="t">-/-</text>
<text transform="translate(481.76,1070.7) scale(0.8924,1)" font-size="20.2">PBS</text>
<text transform="translate(400.91,1089.0) scale(0.9097,1)" font-size="20.2"><tspan letter-spacing="-1.72">W</tspan>T IgG</text>
<text transform="translate(400.91,1110.1) scale(0.9029,1)" font-size="20.2"><tspan letter-spacing="-1.72">W</tspan>T 5C6</text>
<text transform="translate(400.41,1129.4) scale(0.8716,1)" font-size="20.2">Siglec-E</text>
<text transform="translate(465.83,1122.5) scale(1.2030,1)" font-size="10.5" class="t">-/-</text>
<text transform="translate(482.16,1129.4) scale(0.9013,1)" font-size="20.2">IgG</text>
<text transform="translate(400.41,1151.7) scale(0.8716,1)" font-size="20.2">Siglec-E</text>
<text transform="translate(465.83,1144.8) scale(1.2030,1)" font-size="10.5" class="t">-/-</text>
<text transform="translate(482.28,1151.7) scale(0.8914,1)" font-size="20.2">5C6</text>
</svg>
</body></html>
